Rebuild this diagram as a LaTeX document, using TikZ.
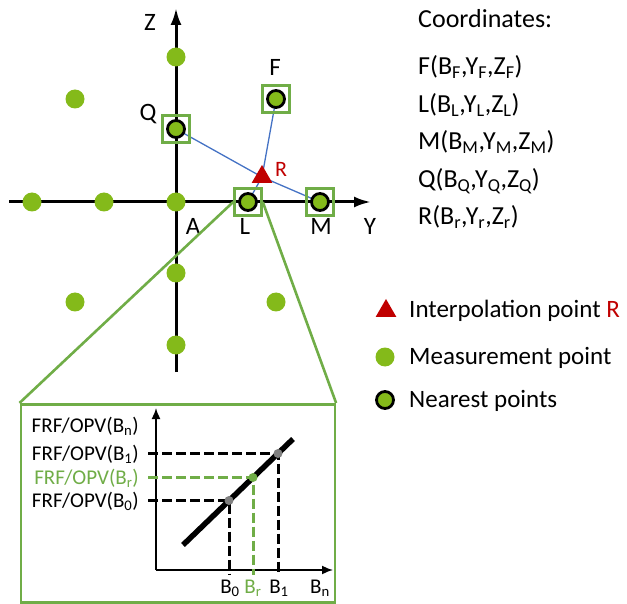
\documentclass[tikz,border=0pt]{standalone}
\usepackage{fontspec}
\setmainfont{Carlito}
\usetikzlibrary{arrows.meta,shapes.geometric}

\definecolor{dotgreen}{RGB}{132,186,26}
\definecolor{framegreen}{RGB}{112,173,71}
\definecolor{interpred}{RGB}{192,0,0}
\definecolor{linkblue}{RGB}{68,114,196}
\definecolor{levelgray}{RGB}{128,128,128}

\begin{document}
\begin{tikzpicture}[
    x=1pt, y=-1pt,
    axis/.style={line width=3pt, -{Latex[length=17pt, width=11pt]}},
    subaxis/.style={line width=1.6pt, -{Latex[length=11pt, width=9pt]}},
    meas/.style={circle, fill=dotgreen, minimum size=19pt, inner sep=0pt},
    nearest/.style={circle, fill=dotgreen, draw=black, line width=2.8pt, minimum size=17pt, inner sep=0pt},
    selbox/.style={draw=framegreen, line width=2.6pt, minimum size=27pt, inner sep=0pt},
    interp/.style={regular polygon, regular polygon sides=3, fill=interpred, minimum size=24pt, inner sep=0pt},
    link/.style={draw=linkblue, line width=1.3pt},
    zoomline/.style={draw=framegreen, line width=2.6pt},
    lbl/.style={font=\fontsize{25}{30}\selectfont, inner sep=0pt},
    bigtxt/.style={font=\fontsize{26}{31}\selectfont, inner sep=0pt},
    legtxt/.style={font=\fontsize{25}{30}\selectfont, inner sep=0pt},
    smalltxt/.style={font=\fontsize{21}{25}\selectfont, inner sep=0pt},
    level/.style={line width=3pt, dash pattern=on 10pt off 4pt},
    leveldot/.style={circle, minimum size=9pt, inner sep=0pt}
  ]
    \useasboundingbox (0,0) rectangle (627,604);

    % main axes
    \coordinate (zbot) at (176,372);
    \coordinate (ztop) at (176,8);
    \coordinate (yleft) at (9,202);
    \coordinate (yright) at (371,202);
    \draw[axis] (zbot) -- (ztop);
    \draw[axis] (yleft) -- (yright);
    \node[lbl] (zlab) at (150,22) {Z};
    \node[lbl] (ylab) at (370,226) {Y};
    \node[lbl] (alab) at (193,226) {A};

    % measurement grid
    \foreach \px/\py [count=\i] in {32/202, 104/202, 176/202, 176/57, 176/273, 176/345, 75/99, 75/302, 276/302}
      \node[meas] (p\i) at (\px,\py) {};

    % nearest points and interpolation point
    \coordinate (f) at (276,99);
    \coordinate (q) at (176,129);
    \coordinate (l) at (248,202);
    \coordinate (m) at (320,202);
    \coordinate (r) at (262,177);

    \draw[link] (q) -- (r) -- (m);
    \draw[link] (f) -- (r) -- (l);

    \node[selbox] (Fsel) at (f) {};
    \node[selbox] (Qsel) at (q) {};
    \node[selbox] (Lsel) at (l) {};
    \node[selbox] (Msel) at (m) {};
    \node[nearest] (F) at (f) {};
    \node[nearest] (Q) at (q) {};
    \node[nearest] (L) at (l) {};
    \node[nearest] (M) at (m) {};
    \node[interp] (R) at (r) {};

    \node[lbl] (flab) at (275,67) {F};
    \node[lbl] (qlab) at (148,114) {Q};
    \node[lbl] (llab) at (245,226) {L};
    \node[lbl] (mlab) at (321,226) {M};
    \node[font=\fontsize{22}{26}\selectfont, inner sep=0pt, text=interpred] (rlab) at (281,169) {R};

    % zoomed view
    \node[draw=framegreen, line width=2.6pt, minimum width=314pt, minimum height=198pt, anchor=north west] (inset) at (19.5,403) {};
    \draw[zoomline] (Lsel.west) -- (inset.north west);
    \draw[zoomline] (Lsel.east) -- (inset.north east);

    \coordinate (o) at (156,570);
    \coordinate (vtip) at (156,408);
    \coordinate (htip) at (333,570);
    \draw[subaxis] (o) -- (vtip);
    \draw[subaxis] (o) -- (htip);

    \coordinate (ls) at (183,545);
    \coordinate (le) at (293,439);
    \draw[line width=5.5pt] (ls) -- (le);

    \coordinate (b0) at (229,500.5);
    \coordinate (br) at (253,477.5);
    \coordinate (b1) at (278,453.5);
    \coordinate (dl) at (148,0);
    \coordinate (df) at (0,575);

    \draw[level] (b0 -| dl) -- (b0) -- (b0 |- df);
    \draw[level] (b1 -| dl) -- (b1) -- (b1 |- df);
    \draw[level, framegreen] (br -| dl) -- (br) -- (br |- df);
    \node[leveldot, fill=levelgray] (B0) at (b0) {};
    \node[leveldot, fill=levelgray] (B1) at (b1) {};
    \node[leveldot, fill=framegreen] (Br) at (br) {};

    \node[smalltxt, anchor=base east] (vn) at (139,432) {FRF/OPV(B\textsubscript{n})};
    \node[smalltxt, anchor=base east] (v1) at (139,460) {FRF/OPV(B\textsubscript{1})};
    \node[smalltxt, anchor=base east, text=framegreen] (vr) at (139,484) {FRF/OPV(B\textsubscript{r})};
    \node[smalltxt, anchor=base east] (v0) at (139,507) {FRF/OPV(B\textsubscript{0})};

    \node[smalltxt, anchor=base] (h0) at (230,593) {B\textsubscript{0}};
    \node[smalltxt, anchor=base, text=framegreen] (hr) at (253,593) {B\textsubscript{r}};
    \node[smalltxt, anchor=base] (h1) at (279,593) {B\textsubscript{1}};
    \node[smalltxt, anchor=base] (hn) at (320,593) {B\textsubscript{n}};

    % coordinates list
    \node[bigtxt, anchor=base west] (chead) at (418,28) {Coordinates:};
    \node[bigtxt, anchor=base west] (cF) at (418,75) {F(B\textsubscript{F},Y\textsubscript{F},Z\textsubscript{F})};
    \node[bigtxt, anchor=base west] (cL) at (418,113) {L(B\textsubscript{L},Y\textsubscript{L},Z\textsubscript{L})};
    \node[bigtxt, anchor=base west] (cM) at (418,150) {M(B\textsubscript{M},Y\textsubscript{M},Z\textsubscript{M})};
    \node[bigtxt, anchor=base west] (cQ) at (418,188) {Q(B\textsubscript{Q},Y\textsubscript{Q},Z\textsubscript{Q})};
    \node[bigtxt, anchor=base west] (cR) at (418,225) {R(B\textsubscript{r},Y\textsubscript{r},Z\textsubscript{r})};

    % legend
    \node[interp] (legR) at (386,311) {};
    \node[meas] (legM) at (385,357) {};
    \node[nearest] (legN) at (385,400) {};
    \node[legtxt, anchor=base west] (legRtxt) at (409,317) {Interpolation point \textcolor{interpred}{R}};
    \node[legtxt, anchor=base west] (legMtxt) at (409,364) {Measurement point};
    \node[legtxt, anchor=base west] (legNtxt) at (409,407) {Nearest points};
  \end{tikzpicture}
\end{document}
